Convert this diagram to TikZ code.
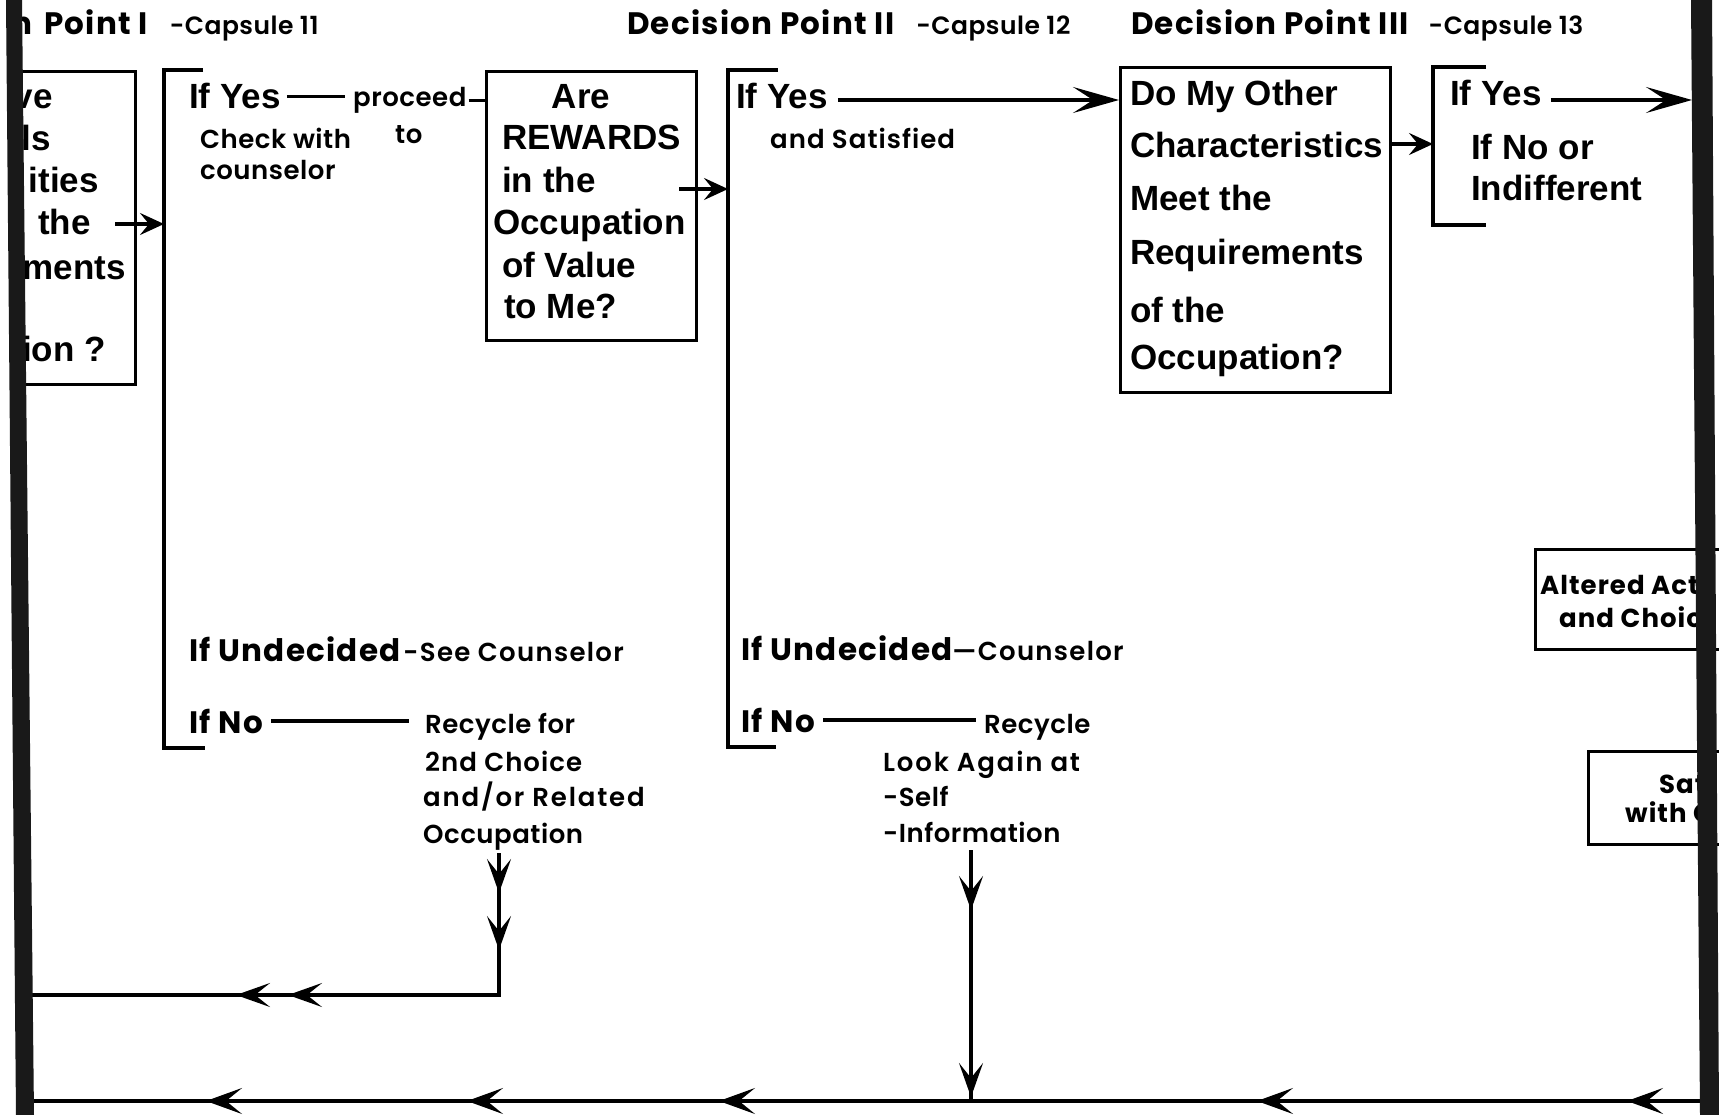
\documentclass[tikz,border=0pt]{standalone}
\usepackage{fontspec}
\setmainfont{Liberation Sans}
\newfontfamily\futw{Poppins}[LetterSpace=4]
\newfontfamily\futm{Poppins SemiBold}[LetterSpace=2]
\usetikzlibrary{arrows.meta,decorations.markings,calc}
\tikzset{
  longtip/.tip={Stealth[length=46pt,width=26pt,inset=20pt]},
  flowtip/.tip={Stealth[length=36pt,width=26pt,inset=16pt]},
  droptip/.tip={Stealth[length=34pt,width=24pt,inset=15pt]},
  shorttip/.tip={Stealth[length=24pt,width=22pt,inset=9pt]},
  ln/.style={line width=3.2pt},
  box/.style={draw,line width=3.2pt,inner sep=0pt,anchor=north west},
  qt/.style={anchor=base west,inner sep=0pt,font=\fontsize{35}{40}\selectfont\bfseries},
  hd/.style={anchor=base west,inner sep=0pt},
  sm/.style={anchor=base west,inner sep=0pt,font=\futm\fontsize{26}{30}\selectfont},
  band/.style={fill=black!90},
}
\newcommand{\hbig}{\futw\bfseries\fontsize{31}{36}\selectfont}
\newcommand{\hcaps}{\futm\mdseries\fontsize{25}{30}\selectfont}
\newcommand{\hnote}{\futm\mdseries\fontsize{26}{30}\selectfont\addfontfeature{LetterSpace=5}}
\newcommand{\wider}{\addfontfeature{LetterSpace=7}}
\newcommand{\rbox}{\futw\bfseries\fontsize{26}{30}\selectfont}
\begin{document}
\begin{tikzpicture}[x=1pt,y=-1pt]
\fill[white] (0,0) rectangle (1719,1115);
\useasboundingbox (0,0) rectangle (1719,1115);

% ---- headings
\node[hd,anchor=base east] (h0) at (33,35) {\hbig n};
\node[hd] (h1) at (44,35) {\hbig Point I\hspace{22pt}\hcaps-Capsule 11};
\node[hd] (h2) at (627,35) {\hbig Decision Point II\hspace{22pt}\hcaps-Capsule 12};
\node[hd] (h3) at (1131,35) {\hbig Decision Point III\hspace{20pt}\hcaps-Capsule 13};

% ---- first question box (cut by the page edge)
\node[box,minimum width=124pt,minimum height=313pt] (lbox) at (10,70) {};
\node[qt,anchor=base east] (l1) at (53,109) {ve};
\node[qt,anchor=base east] (l2) at (51,151) {ls};
\node[qt,anchor=base east] (l3) at (99,193) {ities};
\node[qt,anchor=base east] (l4) at (91,235) {the};
\node[qt,anchor=base east] (l5) at (126,280) {ments};
\node[qt,anchor=base east] (l6) at (106,361) {ion ?};

% ---- bracket 1
\coordinate (b1t) at (164,70);
\coordinate (b1b) at (164,748);
\draw[ln] ($(b1t)+(39,0)$) -- (b1t) -- (b1b) -- ($(b1b)+(41,0)$);
\coordinate (la) at (115,224);
\draw[ln,-{shorttip}] (la) -- (b1t |- la);

\node[qt] (y1) at (189,109) {If Yes};
\node[sm] (pr) at (353,107) {proceed};
\node[sm] (to) at (395,144) {to};
\node[sm] (ck1) at (200,149) {Check with};
\node[sm] (ck2) at (200,180) {counselor};
\draw[ln] ([xshift=6pt]y1.east) -- ([xshift=-8pt]pr.west |- y1.east);

% ---- rewards box
\node[box,minimum width=210pt,minimum height=269pt] (rew) at (485,70) {};
\node[qt,anchor=base] (r1) at (581,109) {Are};
\node[qt] (r2) at (502,150) {REWARDS};
\node[qt] (r3) at (502,193) {in the};
\node[qt] (r4) at (493,235) {Occupation};
\node[qt] (r5) at (502,278) {of Value};
\node[qt] (r6) at (504,319) {to Me?};
\draw[ln] ([xshift=2pt]pr.east) -- (rew.west |- pr.east);

% ---- bracket 2
\coordinate (b2t) at (728,70);
\coordinate (b2b) at (728,747);
\draw[ln] ($(b2t)+(50,0)$) -- (b2t) -- (b2b) -- ($(b2b)+(48,0)$);
\coordinate (ra) at ($(rew.east |- 0,189)+(-19,0)$);
\draw[ln,-{shorttip}] (ra) -- (b2t |- ra);

\node[qt] (y2) at (736,109) {If Yes};
\node[sm] (sat2) at (770,149) {\addfontfeature{LetterSpace=4}and Satisfied};

% ---- characteristics box
\node[box,minimum width=270pt,minimum height=325pt] (occ) at (1119,66) {};
\node[qt] (o1) at (1130,106) {Do My Other};
\node[qt] (o2) at (1130,158) {Characteristics};
\node[qt] (o3) at (1130,211) {Meet the};
\node[qt] (o4) at (1130,265) {Requirements};
\node[qt] (o5) at (1130,323) {of the};
\node[qt] (o6) at (1130,369) {Occupation?};
\draw[ln,-{longtip}] ([xshift=10pt]y2.east |- 0,100) -- (occ.west |- 0,100);

% ---- bracket 3
\coordinate (b3t) at (1433,67);
\coordinate (b3b) at (1433,225);
\draw[ln] ($(b3t)+(53,0)$) -- (b3t) -- (b3b) -- ($(b3b)+(53,0)$);
\draw[ln,-{shorttip}] (occ.east |- 0,144) -- (b3t |- 0,144);

\node[qt] (y3) at (1450,106) {If Yes};
\node[qt] (n3a) at (1471,160) {If No or};
\node[qt] (n3b) at (1471,201) {Indifferent};
\coordinate (edgeR) at (1692,100);
\draw[ln,-{longtip}] ([xshift=9pt]y3.east |- edgeR) -- (edgeR);

% ---- lower branches of bracket 1
\node[hd] (u1) at (189,661) {\hbig If Undecided\hspace{3pt}\hnote-See Counselor};
\node[hd] (no1) at (189,733) {\hbig If No};
\node[sm] (rc1) at (425,733) {Recycle for};
\node[sm] (rc2) at (425,771) {\addfontfeature{LetterSpace=4}2nd Choice};
\node[sm] (rc3) at (423,806) {\wider and/or Related};
\node[sm] (rc4) at (423,843) {Occupation};
\draw[ln] ([xshift=8pt]no1.east) -- ([xshift=-16pt]rc1.west |- no1.east);

% ---- lower branches of bracket 2
\node[hd] (u2) at (741,660) {\hbig If Undecided\hnote—Counselor};
\node[hd] (no2) at (741,732) {\hbig If No};
\node[sm] (rc5) at (984,733) {Recycle};
\node[sm] (lk1) at (883,771) {\wider Look Again at};
\node[sm] (lk2) at (883,806) {-Self};
\node[sm] (lk3) at (883,842) {-Information};
\draw[ln] ([xshift=8pt]no2.east) -- ([xshift=-8pt]rc5.west |- no2.east);

% ---- boxes at the right page edge
\node[box,minimum width=190pt,minimum height=100pt] (alt) at (1534,548) {};
\node[hd] (alt1) at (1540,594) {\rbox Altered Acti};
\node[hd] (alt2) at (1559,627) {\rbox and Choic};
\node[box,minimum width=140pt,minimum height=93pt] (satb) at (1587,750) {};
\node[hd] (sa1) at (1659,793) {\rbox Sat};
\node[hd] (sa2) at (1625,822) {\rbox with C};

% ---- recycle lines back to the start
\coordinate (d1) at (499,853);
\coordinate (c1) at (499,995);
\coordinate (e1) at (28,995);
\draw[ln,postaction={decorate},decoration={markings,
   mark=at position 40pt with {\arrow{droptip}},
   mark=at position 97pt with {\arrow{droptip}},
   mark=at position 353pt with {\arrow{droptip}},
   mark=at position 405pt with {\arrow{droptip}}}]
  (d1) -- (c1) -- (e1);

\coordinate (d2) at (971,850);
\coordinate (c2) at (971,1101);
\draw[ln,postaction={decorate},decoration={markings,
   mark=at position 60pt with {\arrow{droptip}},
   mark=at position 247pt with {\arrow{droptip}}}]
  (d2) -- (c2);

\coordinate (s0) at (1702,1101);
\coordinate (e0) at (28,1101);
\draw[ln,postaction={decorate},decoration={markings,
   mark=at position 75pt with {\arrow{flowtip}},
   mark=at position 445pt with {\arrow{flowtip}},
   mark=at position 983pt with {\arrow{flowtip}},
   mark=at position 1235pt with {\arrow{flowtip}},
   mark=at position 1496pt with {\arrow{flowtip}}}]
  (s0) -- (e0);

% ---- page edges
\fill[band] (6,0) -- (22,0) -- (34,1115) -- (16,1115) -- cycle;
\fill[band] (1691,0) -- (1712,0) -- (1719,1115) -- (1700,1115) -- cycle;
\end{tikzpicture}
\end{document}
